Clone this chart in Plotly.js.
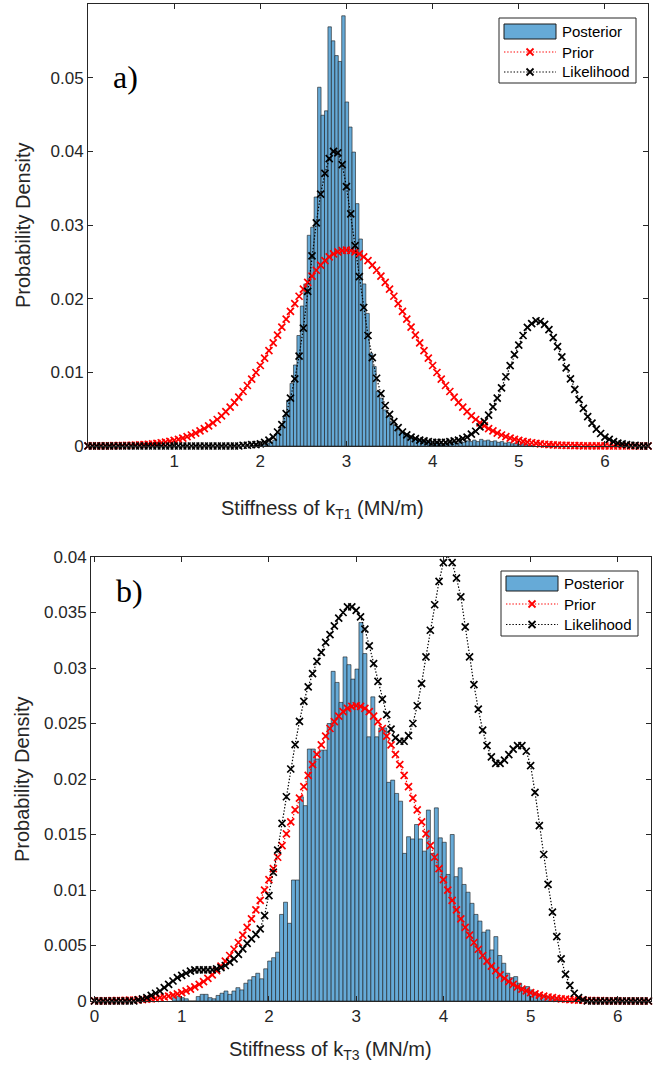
<!DOCTYPE html>
<html><head><meta charset="utf-8">
<script src="https://cdn.plot.ly/plotly-3.0.1.min.js"></script>
<style>html,body{margin:0;padding:0;background:#fff;}#chart{width:662px;height:1068px;}</style>
</head><body><div id="chart"></div>
<script>
// ---------- data ----------
const gridStart = 0, gridStep = 0.05;

const priorA = [0.00001,0.00001,0.00002,0.00002,0.00003,0.00003,0.00004,0.00005,0.00007,0.00008,
0.0001,0.00013,0.00016,0.0002,0.00024,0.0003,0.00036,0.00044,0.00053,0.00064,
0.00076,0.00091,0.00107,0.00127,0.00149,0.00175,0.00204,0.00236,0.00273,0.00314,
0.0036,0.0041,0.00466,0.00527,0.00593,0.00664,0.0074,0.00821,0.00907,0.00998,
0.01093,0.01192,0.01295,0.01399,0.01506,0.01613,0.01721,0.01827,0.01932,0.02033,
0.0213,0.02222,0.02307,0.02386,0.02455,0.02516,0.02567,0.02607,0.02636,0.02654,
0.0266,
0.02654,0.02636,0.02607,0.02567,0.02516,0.02455,0.02386,0.02307,0.02222,0.0213,
0.02033,0.01932,0.01827,0.01721,0.01613,0.01506,0.01399,0.01295,0.01192,0.01093,
0.00998,0.00907,0.00821,0.0074,0.00664,0.00593,0.00527,0.00466,0.0041,0.0036,
0.00314,0.00273,0.00236,0.00204,0.00175,0.00149,0.00127,0.00107,0.00091,0.00076,
0.00064,0.00053,0.00044,0.00036,0.0003,0.00024,0.0002,0.00016,0.00013,0.0001,
0.00008,0.00007,0.00005,0.00004,0.00003,0.00003,0.00002,0.00002,0.00001,0.00001,
0,0,0,0,0,0,0,0,0,0];

const likeA = [0,0,0,0,0,0,0,0,0,0, 0,0,0,0,0,0,0,0,0,0, 0,0,0,0,0,0,0,0,0,0, 0,0,0,0,0,0,
0.0001,0.0001,0.0002,0.0002,
0.0003,0.0005,0.0008,0.0012,0.0019,0.0029,0.0044,0.0065,0.0091,0.0122,
0.016,0.021,0.0258,0.0303,0.0342,0.037,0.039,0.04,0.0398,0.0382,
0.0352,0.0315,0.0272,0.023,0.0188,0.015,0.012,0.0092,0.0071,0.0055,
0.0043,0.0033,0.0025,0.0019,0.0015,0.0012,0.001,0.0008,0.0007,0.0006,
0.0005,0.0005,0.0005,0.0005,0.0006,0.0007,0.0008,0.001,0.0012,0.0016,
0.002,0.0026,0.0033,0.0042,0.0053,0.0065,0.0079,0.0094,0.0109,0.0124,
0.0137,0.015,0.0161,0.0166,0.017,0.0169,0.0165,0.0158,0.0147,0.0135,
0.0121,0.0106,0.0091,0.0077,0.0063,0.0051,0.004,0.0031,0.0023,0.0017,
0.0012,0.0009,0.0006,0.0004,0.0003,0.0002,0.0001,0.0001,0,0,0];

const postAStart = 1.965, postAWidth = 0.04;
const postA = [0.0001,0.0001,0.0002,0.0004,0.0005,0.0008,0.0017,0.0026,0.004,0.0062,
0.0085,0.011,0.015,0.019,0.022,0.0286,0.0297,0.0338,0.0487,0.0449,
0.0455,0.0569,0.055,0.053,0.0522,0.0584,0.0467,0.0433,0.0399,0.0329,
0.0281,0.022,0.018,0.0126,0.0108,0.0074,0.0065,0.0049,0.004,0.0033,
0.0028,0.0022,0.0019,0.0017,0.0014,0.0012,0.001,0.0009,0.0008,0.0007,
0.0006,0.0005,0.0004,0.0004,0.0003,0.0004,0.0003,0.0005,0.0004,0.0006,
0.0005,0.0007,0.0006,0.0008,0.0006,0.0009,0.0007,0.0008,0.0006,0.0007,
0.0005,0.0006,0.0004,0.0005,0.0003,0.0004,0.0002,0.0003,0.0002,0.0001,0.0001];

const priorB = [0.00001,0.00001,0.00002,0.00002,0.00003,0.00003,0.00004,0.00005,0.00007,0.00008,
0.0001,0.00013,0.00016,0.0002,0.00024,0.0003,0.00036,0.00044,0.00053,0.00064,
0.00076,0.00091,0.00107,0.00127,0.00149,0.00175,0.00204,0.00236,0.00273,0.00314,
0.0036,0.0041,0.00466,0.00527,0.00593,0.00664,0.0074,0.00821,0.00907,0.00998,
0.01093,0.01192,0.01295,0.01399,0.01506,0.01613,0.01721,0.01827,0.01932,0.02033,
0.0213,0.02222,0.02307,0.02386,0.02455,0.02516,0.02567,0.02607,0.02636,0.02654,
0.0266,
0.02654,0.02636,0.02607,0.02567,0.02516,0.02455,0.02386,0.02307,0.02222,0.0213,
0.02033,0.01932,0.01827,0.01721,0.01613,0.01506,0.01399,0.01295,0.01192,0.01093,
0.00998,0.00907,0.00821,0.0074,0.00664,0.00593,0.00527,0.00466,0.0041,0.0036,
0.00314,0.00273,0.00236,0.00204,0.00175,0.00149,0.00127,0.00107,0.00091,0.00076,
0.00064,0.00053,0.00044,0.00036,0.0003,0.00024,0.0002,0.00016,0.00013,0.0001,
0.00008,0.00007,0.00005,0.00004,0.00003,0.00003,0.00002,0.00002,0.00001,0.00001,
0,0,0,0,0,0,0,0];

const likeB = [0,0,0,0,0,0,0,0,0,0,
0.0001,0.0002,0.0003,0.0005,0.0007,0.0009,0.0012,0.0015,0.0018,0.0021,
0.0023,0.0025,0.0027,0.0028,0.0028,0.0028,0.0028,0.0028,0.0029,0.003,
0.0032,0.0035,0.0038,0.0042,0.0047,0.0052,0.0056,0.006,0.0065,0.0077,
0.0095,0.0116,0.0136,0.016,0.0184,0.0209,0.0231,0.0252,0.027,0.0283,
0.0295,0.0306,0.0314,0.0323,0.033,0.0338,0.0345,0.035,0.0355,0.0355,
0.0352,0.0346,0.0335,0.032,0.0304,0.0288,0.0272,0.0258,0.0245,0.0237,
0.0234,0.0234,0.0239,0.025,0.0266,0.0286,0.031,0.0334,0.0357,0.0378,
0.0395,0.0401,0.0395,0.0381,0.0364,0.0337,0.031,0.0285,0.0263,0.0244,
0.023,0.022,0.0214,0.0214,0.0217,0.0222,0.0227,0.023,0.023,0.0225,
0.0212,0.0188,0.0158,0.0132,0.0105,0.008,0.0058,0.0038,0.0024,0.0014,
0.0007,0.0003,0.0001,
0,0,0,0,0,0,0,0,0,0,0,0,0,0,0,0];

const postBStart = 0.916, postBWidth = 0.0455;
const postB = [0.0003,0.0004,0.0003,0.0002,0,0,0.0004,0.0006,0.0006,0.0003,
0.0002,0.0005,0.0007,0.0009,0.0006,0.0009,0.0012,0.001,0.0016,0.0019,
0.0022,0.0025,0.002,0.0029,0.0036,0.0039,0.0044,0.0078,0.0089,0.007,
0.0109,0.0109,0.0184,0.0176,0.0227,0.0227,0.0218,0.0226,0.0226,0.025,
0.0297,0.0287,0.0269,0.031,0.0303,0.029,0.0299,0.0341,0.0313,0.0238,
0.0274,0.0238,0.0246,0.0246,0.0197,0.0199,0.0187,0.018,0.0133,0.0148,
0.0146,0.0159,0.0146,0.0135,0.0172,0.0133,0.0174,0.0147,0.0143,0.0114,
0.015,0.0112,0.012,0.0105,0.0098,0.0088,0.0078,0.0072,0.0062,0.0064,
0.0046,0.0058,0.0041,0.0034,0.0025,0.0021,0.0022,0.0016,0.0012,0.0013,
0.001,0.0008,0.0006,0.0005,0.0004,0.0003,0.0003,0.0002];

const seriesNames = ['Posterior','Prior','Likelihood'];
const xTitleA = 'Stiffness of k<sub>T1</sub> (MN/m)';
const xTitleB = 'Stiffness of k<sub>T3</sub> (MN/m)';
const yTitle = 'Probability Density';
const yTicksA = [0,0.01,0.02,0.03,0.04,0.05];
const yTickTextA = ['0','0.01','0.02','0.03','0.04','0.05'];
const yTicksB = [0,0.005,0.01,0.015,0.02,0.025,0.03,0.035,0.04];
const yTickTextB = ['0','0.005','0.01','0.015','0.02','0.025','0.03','0.035','0.04'];
const xTicksA = [1,2,3,4,5,6];
const xTicksB = [0,1,2,3,4,5,6];

// ---------- style ----------
const W = 662, H = 1068;
const FONT = 'Liberation Sans, Arial, sans-serif';
const AX = '#262626';
const BAR = '#66AAD7';
const DOTS = '1.4px,1.8px';
const px = v => v / W, py = v => 1 - v / H;

function barTrace(y, x0, w, xa, ya) {
  return {type:'bar', x0:x0, dx:w, y:y, width:w, xaxis:xa, yaxis:ya, showlegend:false,
    marker:{color:BAR, line:{color:'#1a1a1a', width:0.6}}, hoverinfo:'skip'};
}
function lineTrace(y, color, xa, ya) {
  return {type:'scatter', mode:'lines+markers', x0:gridStart, dx:gridStep, y:y, xaxis:xa, yaxis:ya,
    showlegend:false, cliponaxis:false,
    line:{color:color, width:1.2, dash:DOTS},
    marker:{symbol:'x-thin-open', size:7, color:color, line:{color:color, width:1.7}}, hoverinfo:'skip'};
}

const data = [
  barTrace(postA, postAStart, postAWidth, 'x', 'y'),
  lineTrace(priorA, '#ff0000', 'x', 'y'),
  lineTrace(likeA, '#000000', 'x', 'y'),
  barTrace(postB, postBStart, postBWidth, 'x2', 'y2'),
  lineTrace(priorB, '#ff0000', 'x2', 'y2'),
  lineTrace(likeB, '#000000', 'x2', 'y2')
];

function axisBase(extra) {
  return Object.assign({showline:true, linecolor:AX, linewidth:1, mirror:'ticks', ticks:'inside',
    ticklen:5, tickwidth:1, tickcolor:AX, showgrid:false, zeroline:false, fixedrange:true,
    tickfont:{family:FONT, size:17, color:AX}}, extra);
}

const shapes = [], annotations = [];
function legend(x0, y0, x1, y1, rows, textX) {
  shapes.push({type:'rect', xref:'paper', yref:'paper', x0:px(x0), x1:px(x1), y0:py(y0), y1:py(y1),
    line:{color:AX, width:1}, fillcolor:'#ffffff', layer:'above'});
  shapes.push({type:'rect', xref:'paper', yref:'paper', x0:px(x0+5), x1:px(x0+57), y0:py(rows[0]-7.5), y1:py(rows[0]+7.5),
    line:{color:'#1a1a1a', width:1}, fillcolor:BAR, layer:'above'});
  const cols = ['#ff0000', '#000000'];
  [1,2].forEach(i => {
    const yy = rows[i], c = cols[i-1], cx = x0 + 31;
    shapes.push({type:'line', xref:'paper', yref:'paper', x0:px(x0+5), x1:px(x0+57), y0:py(yy), y1:py(yy),
      line:{color:c, width:1.2, dash:DOTS}, layer:'above'});
    shapes.push({type:'line', xref:'paper', yref:'paper', x0:px(cx-3.5), x1:px(cx+3.5), y0:py(yy-3.5), y1:py(yy+3.5),
      line:{color:c, width:1.8}, layer:'above'});
    shapes.push({type:'line', xref:'paper', yref:'paper', x0:px(cx-3.5), x1:px(cx+3.5), y0:py(yy+3.5), y1:py(yy-3.5),
      line:{color:c, width:1.8}, layer:'above'});
  });
  seriesNames.forEach((n, i) => {
    annotations.push({xref:'paper', yref:'paper', x:px(textX), y:py(rows[i]), text:n, showarrow:false,
      xanchor:'left', yanchor:'middle', font:{family:FONT, size:15, color:'#000'}});
  });
}
legend(499, 18, 636, 83, [31.5, 52, 72], 560);
legend(501, 571, 638, 636, [583.5, 604, 624.5], 562);

function label(x, y, text, size, angle, family) {
  annotations.push({xref:'paper', yref:'paper', x:px(x), y:py(y), text:text, showarrow:false,
    xanchor:'center', yanchor:'middle', textangle:angle || 0,
    font:{family:family || FONT, size:size, color:family ? '#000' : AX}});
}
label(322, 509, xTitleA, 20);
label(330, 1050, xTitleB, 20);
label(23, 225, yTitle, 20, -90);
label(22, 779, yTitle, 20, -90);
label(125, 77, 'a)', 32, 0, 'Liberation Serif, Times New Roman, serif');
label(129, 591, 'b)', 32, 0, 'Liberation Serif, Times New Roman, serif');

const layout = {
  width:W, height:H, margin:{l:0, r:0, t:0, b:0}, paper_bgcolor:'#fff', plot_bgcolor:'#fff',
  showlegend:false, bargap:0, barmode:'overlay',
  xaxis: axisBase({domain:[px(88), px(648)], range:[0, 6.5], tickvals:xTicksA, ticktext:xTicksA.map(String), anchor:'y'}),
  yaxis: axisBase({domain:[py(446), py(4)], range:[0, 0.06], tickvals:yTicksA, ticktext:yTickTextA, anchor:'x'}),
  xaxis2: axisBase({domain:[px(91), px(651)], range:[-0.04, 6.38], tickvals:xTicksB, ticktext:xTicksB.map(String), anchor:'y2'}),
  yaxis2: axisBase({domain:[py(1001), py(557)], range:[0, 0.04], tickvals:yTicksB, ticktext:yTickTextB, anchor:'x2'}),
  shapes:shapes, annotations:annotations
};

Plotly.newPlot('chart', data, layout, {displayModeBar:false, staticPlot:true});
</script>
</body></html>
